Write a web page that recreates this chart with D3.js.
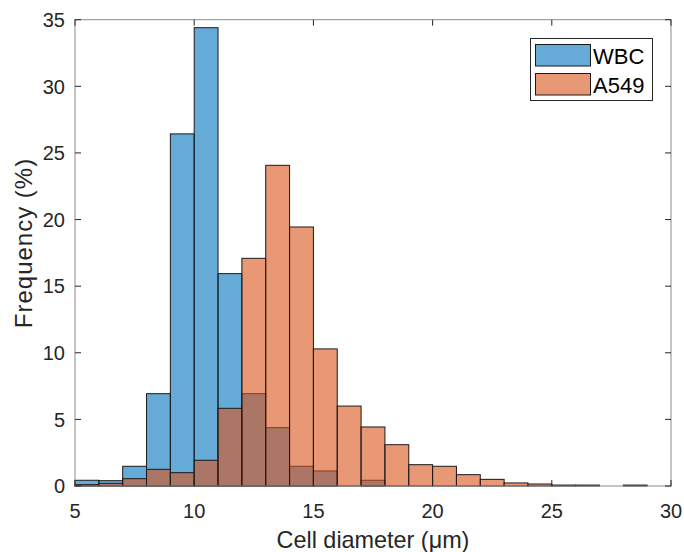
<!DOCTYPE html>
<html><head><meta charset="utf-8">
<script src="https://cdn.jsdelivr.net/npm/d3@7"></script>
<style>body{margin:0;background:#fff}svg{display:block}</style>
</head><body>
<script>
const binEdges = [5,6,7,8,9,10,11,12,13,14,15,16,17,18,19,20,21,22,23,24,25,26,27,28,29];
const wbc  = [0.43,0.4,1.48,6.93,26.43,34.4,15.94,6.93,4.38,1.48,1.13,0,0.43,0,0,0,0,0,0,0,0,0,0,0,0];
const a549 = [0.1,0.2,0.55,1.25,1.0,1.93,5.83,17.09,24.07,19.44,10.29,6.0,4.43,3.1,1.6,1.48,0.85,0.5,0.23,0.15,0.07,0.07,0,0.07,0];
const xTicks = [5,10,15,20,25,30];
const yTicks = [0,5,10,15,20,25,30,35];
const seriesNames = ["WBC","A549"];
const seriesColors = ["#0072bd","#d95319"];

const W=684,H=552;
const L=75,R=671,T=19.7,B=486;
const svg=d3.select("body").append("svg").attr("width",W).attr("height",H);
const x=d3.scaleLinear().domain([5,30]).range([L,R]);
const y=d3.scaleLinear().domain([0,35]).range([B,T]);
const font="'Liberation Sans', Arial, sans-serif";

[wbc,a549].forEach((vals,si)=>{
  svg.append("g").selectAll("rect").data(binEdges.map((e,i)=>({e,v:vals[i]})).filter(d=>d.v>0))
    .join("rect")
    .attr("x",d=>x(d.e)).attr("width",d=>x(d.e+1)-x(d.e))
    .attr("y",d=>y(d.v)).attr("height",d=>y(0)-y(d.v))
    .attr("fill",seriesColors[si]).attr("fill-opacity",0.6)
    .attr("stroke","#1a1a1a").attr("stroke-width",1);
});

// box
const axCol="#8a8a8a";
svg.append("rect").attr("x",L).attr("y",T).attr("width",R-L).attr("height",B-T)
  .attr("fill","none").attr("stroke",axCol).attr("stroke-width",1);

const tickLen=6;
const gx=svg.append("g");
xTicks.forEach(t=>{
  const px=x(t);
  gx.append("line").attr("x1",px).attr("x2",px).attr("y1",B).attr("y2",B-tickLen).attr("stroke","#262626");
  gx.append("line").attr("x1",px).attr("x2",px).attr("y1",T).attr("y2",T+tickLen).attr("stroke","#262626");
  gx.append("text").attr("x",px).attr("y",517.5).attr("text-anchor","middle")
    .attr("font-family",font).attr("font-size",20).attr("fill","#262626").text(t);
});
const gy=svg.append("g");
yTicks.forEach(t=>{
  const py=y(t);
  gy.append("line").attr("x1",L).attr("x2",L+tickLen).attr("y1",py).attr("y2",py).attr("stroke","#262626");
  gy.append("line").attr("x1",R).attr("x2",R-tickLen).attr("y1",py).attr("y2",py).attr("stroke","#262626");
  gy.append("text").attr("x",65).attr("y",py+7.2).attr("text-anchor","end")
    .attr("font-family",font).attr("font-size",20).attr("fill","#262626").text(t);
});

svg.append("text").attr("x",(L+R)/2).attr("y",548).attr("text-anchor","middle")
  .attr("font-family",font).attr("font-size",23.4).attr("fill","#262626").text("Cell diameter (μm)");
svg.append("text").attr("transform",`translate(32,243) rotate(-90)`).attr("text-anchor","middle")
  .attr("font-family",font).attr("font-size",24).attr("letter-spacing",1).attr("fill","#262626")
  .text("Frequency (%)");

// legend
const lg=svg.append("g");
lg.append("rect").attr("x",530.5).attr("y",38.5).attr("width",122).attr("height",62)
  .attr("fill","#fff").attr("stroke","#262626").attr("stroke-width",1);
seriesNames.forEach((n,i)=>{
  const yy=44.5+i*29;
  lg.append("rect").attr("x",535.5).attr("y",yy).attr("width",55).attr("height",21.5)
    .attr("fill",seriesColors[i]).attr("fill-opacity",0.6).attr("stroke","#1a1a1a");
  lg.append("text").attr("x",593).attr("y",yy+19.3).attr("font-family",font).attr("font-size",22)
    .attr("fill","#000").text(n);
});
</script>
</body></html>
